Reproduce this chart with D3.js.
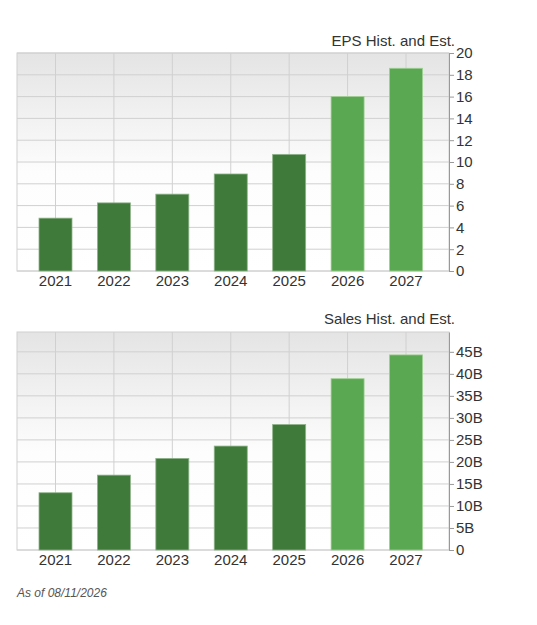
<!DOCTYPE html><html><head><meta charset="utf-8"><script src="https://cdn.jsdelivr.net/npm/d3@7"></script>
<style>body{margin:0;background:#fff}text{font-family:"Liberation Sans",Arial,sans-serif}</style></head><body><svg id="c" width="537" height="625"></svg>
<script>
const years=["2021","2022","2023","2024","2025","2026","2027"];
const estimate=[false,false,false,false,false,true,true];
const epsValues=[4.85,6.25,7.05,8.9,10.7,16.0,18.6];
const epsTicks=[0,2,4,6,8,10,12,14,16,18,20];
const salesValues=[13.0,17.0,20.8,23.6,28.5,38.9,44.3];
const salesTicks=[0,5,10,15,20,25,30,35,40,45];
const svg=d3.select("#c");
const defs=svg.append("defs");
const g=defs.append("linearGradient").attr("id","bg").attr("x1",0).attr("x2",0).attr("y1",0).attr("y2",1);
g.append("stop").attr("offset","0").attr("stop-color","#e4e4e4");
g.append("stop").attr("offset","0.55").attr("stop-color","#fdfdfd");
g.append("stop").attr("offset","1").attr("stop-color","#fff");
const L=17,R=449;
const x=d3.scaleLinear().domain([0,6]).range([55.5,406]);
function panel(title,vals,ticks,top,bottom,dmax,fmt,titleY){
  const y=d3.scaleLinear().domain([0,dmax]).range([bottom,top]);
  const p=svg.append("g");
  p.append("rect").attr("x",L).attr("y",top).attr("width",R-L).attr("height",bottom-top).attr("fill","url(#bg)").attr("stroke","#d0d0d0");
  p.selectAll(".h").data(ticks).join("line").attr("x1",L).attr("x2",R).attr("y1",d=>y(d)).attr("y2",d=>y(d)).attr("stroke","#d0d0d0");
  p.selectAll(".v").data(years).join("line").attr("x1",(d,i)=>x(i)).attr("x2",(d,i)=>x(i)).attr("y1",top).attr("y2",bottom).attr("stroke","#d0d0d0");
  p.selectAll(".b").data(vals).join("rect").attr("x",(d,i)=>x(i)-16.5).attr("width",33).attr("y",d=>y(d)).attr("height",d=>bottom-y(d))
    .attr("fill",(d,i)=>estimate[i]?"#5aa852":"#3f7a3a").attr("stroke",(d,i)=>estimate[i]?"#9fd093":"#8fb38a").attr("stroke-width",0.8);
  const ax=p.append("g").attr("transform",`translate(${R},0)`).call(d3.axisRight(y).tickValues(ticks).tickFormat(fmt).tickSize(5).tickSizeOuter(0));
  ax.select(".domain").attr("stroke","#999");
  ax.selectAll("line").attr("stroke","#999");
  ax.selectAll("text").attr("font-size",15).attr("fill","#333").attr("x",7).attr("font-family","Liberation Sans, Arial, sans-serif");
  p.selectAll(".yl").data(years).join("text").attr("x",(d,i)=>x(i)).attr("y",bottom+15).attr("text-anchor","middle").attr("font-size",15).attr("fill","#333").text(d=>d);
  p.append("text").attr("x",455).attr("y",titleY).attr("text-anchor","end").attr("font-size",15).attr("fill","#333").text(title);
}
panel("EPS Hist. and Est.",epsValues,epsTicks,53,271,20,d=>d,46);
panel("Sales Hist. and Est.",salesValues,salesTicks,332,550,49.5,d=>d===0?"0":d+"B",324);
svg.append("text").attr("x",17).attr("y",597).attr("font-size",12).attr("font-style","italic").attr("fill","#555").text("As of 08/11/2026");
</script></body></html>
